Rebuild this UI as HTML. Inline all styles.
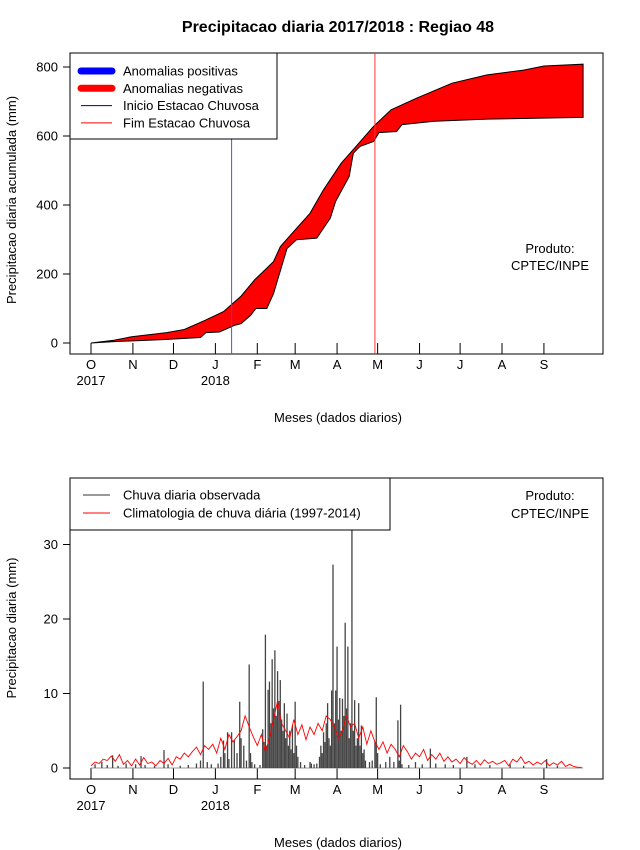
<!DOCTYPE html>
<html><head><meta charset="utf-8"><style>
body{margin:0;background:#fff;}
svg{display:block;font-family:"Liberation Sans",sans-serif;}
</style></head><body>
<svg id="c" width="640" height="850" viewBox="0 0 640 850">
<text x="338" y="32" text-anchor="middle" font-size="16" font-weight="bold">Precipitacao diaria 2017/2018 : Regiao 48</text>
</svg>
<script>
// ---- top chart data ----
const climDays=[0,17,30,56,69,85,98,105,111,121,130,135,140,151,162,172,185,196,209,222,241,267,293,320,335,364];
const climCum=[0,8,18,30,39,67,91,115,136,183,217,236,279,328,376,444,521,570,628,676,710,753,777,791,803,808];
const obsDays=[0,17,53,81,85,95,106,111,118,122,130,135,145,152,167,177,181,191,194,199,209,213,226,230,254,293,364];
const obsCum=[0,4,10,16,30,32,51,56,80,100,100,143,274,299,304,362,411,483,550,570,584,610,613,633,643,649,654];
const yTicksTop=[0,200,400,600,800];
const monthLabels=["O","N","D","J","F","M","A","M","J","J","A","S"];
const monthStartDays=[0,31,61,92,123,151,182,212,243,273,304,335];
const yearLabels=["2017","2018"];
const yearDays=[0,92];
const startSeasonDay=104, endSeasonDay=210;
// ---- bottom chart data ----
const rainDays=[3,8,12,16,20,26,33,37,40,47,54,57,66,72,78,81,83,86,89,94,96,98,99,101,102,104,106,108,110,111,113,115,117,118,119,121,125,127,128,129,130,131,132,133,134,135,136,137,138,139,140,141,142,143,144,145,146,147,148,149,150,151,152,153,155,158,162,163,165,167,169,170,171,172,173,174,175,176,177,178,179,180,181,182,183,184,185,186,187,188,189,190,191,192,193,194,195,196,197,198,199,200,201,202,203,206,208,210,211,212,214,218,221,224,227,228,229,230,235,240,245,251,255,262,268,278,284,295,310,320,337,345];
const rainValues=[0.5,0.8,0.4,1.7,0.3,0.6,0.5,1.6,0.4,0.3,2.4,0.5,0.3,0.4,0.6,1.0,11.6,0.8,0.5,0.6,1.5,3.7,2.0,4.8,1.2,4.8,3.8,2.0,8.9,4.0,3.0,1.0,13.9,2.0,0.8,0.5,0.4,5.2,3.5,17.9,3.0,10.5,11.6,6.0,14.6,8.0,15.8,7.0,13.0,9.0,11.8,6.5,5.0,8.7,4.0,7.3,3.0,5.0,2.5,5.7,2.0,8.9,3.0,1.5,0.8,0.4,0.8,0.6,0.5,0.6,1.5,3.0,2.0,4.8,3.5,6.0,8.7,4.0,3.0,10.4,27.3,6.0,10.4,16.3,6.5,9.4,5.0,9.3,7.0,19.5,8.0,16.3,4.0,6.0,32.0,5.0,9.1,3.0,4.0,8.7,3.0,5.7,2.0,2.5,1.0,0.8,1.0,3.5,9.5,2.0,0.5,0.8,1.5,0.8,6.4,1.0,8.5,0.5,0.4,0.8,0.5,2.6,0.6,0.5,0.4,1.5,0.5,0.4,0.5,0.3,1.2,0.3];
const climDaily=[0.3,0.8,0.6,1.2,1.0,1.6,0.9,1.8,0.5,1.0,0.3,
1.2,0.4,1.4,0.6,0.8,0.3,1.0,0.6,1.3,0.4,
1.5,1.2,2.0,1.5,2.2,2.8,1.8,3.0,2.5,3.2,
2.0,4.0,2.5,4.5,3.5,4.2,5.0,7.0,5.5,4.2,
3.0,4.5,2.2,4.0,6.5,9.0,6.0,5.0,4.0,6.5,
4.5,5.8,3.8,5.5,4.5,6.0,5.0,7.0,6.5,5.5,
4.0,5.0,7.0,5.5,6.0,4.0,5.5,3.2,5.0,3.5,
2.5,3.5,2.0,3.2,2.5,1.5,3.0,2.2,1.2,2.0,
1.5,2.5,1.0,1.8,1.2,2.0,0.9,1.5,0.8,1.2,
0.6,1.4,0.8,0.5,1.0,0.4,1.1,0.6,0.9,0.5,
0.7,1.0,0.3,1.2,0.8,1.5,0.6,0.9,0.4,0.8,
0.5,1.0,0.3,0.7,0.4,0.9,0.2,0.5,0.2,0.1,0.1];
const climStep=3;
const yTicksBot=[0,10,20,30];

const svg=document.getElementById('c');
const NS='http://www.w3.org/2000/svg';
function mk(tag,attrs,parent){const e=document.createElementNS(NS,tag);for(const k in attrs)e.setAttribute(k,attrs[k]);(parent||svg).appendChild(e);return e;}
const xDay=d=>91+d*1.352;
const yTop=v=>343-v*0.345;
const yBot=v=>768-v*7.45;

function frame(top,bottom,axisY,name){
  const r=mk('rect',{x:70,y:top,width:533,height:bottom-top,fill:'none',stroke:'#000','stroke-width':1});
  
  
  monthStartDays.forEach((d,i)=>{
    const x=xDay(d);
    const t=mk('line',{x1:x,x2:x,y1:axisY,y2:bottom,stroke:'#000'});
    
    
    const l=mk('text',{x:x,y:bottom+15,'text-anchor':'middle','font-size':13});
    l.textContent=monthLabels[i];
    
    
  });
  yearDays.forEach((d,i)=>{
    const l=mk('text',{x:xDay(d),y:bottom+31,'text-anchor':'middle','font-size':13});
    l.textContent=yearLabels[i];
    
    
  });
  const xl=mk('text',{x:338,y:bottom+68,'text-anchor':'middle','font-size':13});
  xl.textContent='Meses (dados diarios)';
  
  
}

// ---- top chart ----
frame(53,354,343,'top');
yTicksTop.forEach(v=>{
  const y=yTop(v);
  const t=mk('line',{x1:63,x2:70,y1:y,y2:y,stroke:'#000'});
  
  
  const l=mk('text',{x:58,y:y+4.5,'text-anchor':'end','font-size':13});
  l.textContent=v;
  
  
});
{
  const yl=mk('text',{transform:'translate(16,200) rotate(-90)','text-anchor':'middle','font-size':13});
  yl.textContent='Precipitacao diaria acumulada (mm)';
  
  
  let d='M'+climDays.map((t,i)=>xDay(t).toFixed(1)+','+yTop(climCum[i]).toFixed(1)).join(' L');
  for(let i=obsDays.length-1;i>=0;i--) d+=' L'+xDay(obsDays[i]).toFixed(1)+','+yTop(obsCum[i]).toFixed(1);
  d+=' Z';
  const a=mk('path',{d:d,fill:'#ff0000',stroke:'#000','stroke-width':1});
  
  
  const bl=mk('line',{x1:xDay(startSeasonDay),x2:xDay(startSeasonDay),y1:53,y2:354,stroke:'#4a4aff'});
  
  
  const rl=mk('line',{x1:xDay(endSeasonDay),x2:xDay(endSeasonDay),y1:53,y2:354,stroke:'#ff3333'});
  
  
  const lg=mk('g',{});
  
  
  mk('rect',{x:70,y:53,width:207,height:86,fill:'#fff',stroke:'#000'},lg);
  const items=[['Anomalias positivas','#0000ff',7],['Anomalias negativas','#ff0000',7],['Inicio Estacao Chuvosa','#000080',1],['Fim Estacao Chuvosa','#ff0000',1]];
  items.forEach((it,i)=>{
    const y=71+i*17.3;
    const g=mk('g',{},lg);
    
    
    mk('line',{x1:81,x2:112,y1:y,y2:y,stroke:it[1],'stroke-width':it[2],'stroke-linecap':it[2]>1?'round':'butt'},g);
    const t=mk('text',{x:123,y:y+4.5,'font-size':13},g);
    t.textContent=it[0];
  });
  const p1=mk('text',{x:550,y:253,'text-anchor':'middle','font-size':13});
  p1.textContent='Produto:';
  
  
  const p2=mk('text',{x:550,y:270,'text-anchor':'middle','font-size':13});
  p2.textContent='CPTEC/INPE';
  
  
}

// ---- bottom chart ----
frame(478,779,768,'bottom');
yTicksBot.forEach(v=>{
  const y=yBot(v);
  const t=mk('line',{x1:63,x2:70,y1:y,y2:y,stroke:'#000'});
  
  
  const l=mk('text',{x:58,y:y+4.5,'text-anchor':'end','font-size':13});
  l.textContent=v;
  
  
});
{
  const yl=mk('text',{transform:'translate(16,628) rotate(-90)','text-anchor':'middle','font-size':13});
  yl.textContent='Precipitacao diaria (mm)';
  
  
  const base=mk('line',{x1:xDay(0),x2:xDay(364),y1:768,y2:768,stroke:'#999','stroke-width':1});
  
  
  rainDays.forEach((d,i)=>{
    const x=xDay(d);
    const b=mk('line',{x1:x,x2:x,y1:768,y2:yBot(rainValues[i]),stroke:'#444','stroke-width':1.3});
    
    
  });
  const pts=climDaily.map((v,i)=>xDay(i*climStep).toFixed(1)+','+yBot(v).toFixed(1)).join(' ');
  const cl=mk('polyline',{points:pts,fill:'none',stroke:'#ff0000','stroke-width':0.9});
  
  
  const lg=mk('g',{});
  
  
  mk('rect',{x:70,y:478,width:320,height:52,fill:'#fff',stroke:'#000'},lg);
  [['Chuva diaria observada','#333'],['Climatologia de chuva diária (1997-2014)','#ff0000']].forEach((it,i)=>{
    const y=495+i*18;
    const g=mk('g',{},lg);
    
    
    mk('line',{x1:83,x2:110,y1:y,y2:y,stroke:it[1]},g);
    const t=mk('text',{x:123,y:y+4.5,'font-size':13},g);
    t.textContent=it[0];
  });
  const p1=mk('text',{x:550,y:500,'text-anchor':'middle','font-size':13});
  p1.textContent='Produto:';
  
  
  const p2=mk('text',{x:550,y:518,'text-anchor':'middle','font-size':13});
  p2.textContent='CPTEC/INPE';
  
  
}
</script>
</body></html>
